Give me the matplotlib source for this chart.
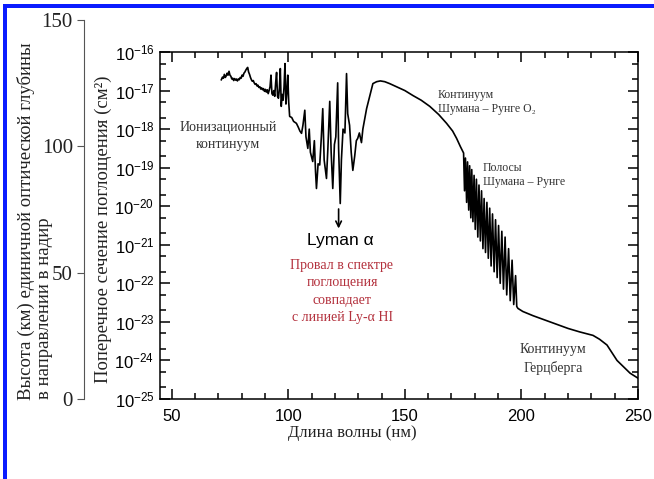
import matplotlib
matplotlib.use("Agg")
import matplotlib.pyplot as plt
from matplotlib.ticker import MultipleLocator, LogLocator, NullFormatter
from matplotlib.patches import Rectangle

# O2 absorption cross-section, wavelength in nm, log10(sigma / cm^2)
ion_wl = [71.3, 71.8, 72.2, 72.6, 73.0, 73.4, 73.8, 74.2, 74.6, 75.0, 75.4, 75.8,
          76.2, 76.6, 77.0, 77.4, 77.8, 78.2, 78.6, 79.0, 79.4, 79.8, 80.2, 80.6,
          81.0, 81.4, 81.8, 82.2, 82.6, 83.0, 83.4, 83.8, 84.2, 84.6, 85.0, 85.4,
          85.8, 86.2, 86.6, 87.0, 87.4, 87.8, 88.2, 88.6, 89.0, 89.4, 89.8, 90.2,
          90.6, 91.0, 91.4, 91.8, 92.2, 92.6, 93.0, 93.4, 93.8, 94.2, 94.6, 95.0,
          95.4, 95.8, 96.2, 96.6, 97.0, 97.4, 97.8, 98.2, 98.6, 99.0, 99.4, 99.8,
          100.2]
ion_log = [-16.72, -16.65, -16.68, -16.58, -16.66, -16.62, -16.55, -16.60, -16.50,
           -16.60, -16.63, -16.70, -16.68, -16.74, -16.69, -16.73, -16.70, -16.75,
           -16.70, -16.72, -16.66, -16.68, -16.60, -16.63, -16.55, -16.52, -16.47,
           -16.43, -16.40, -16.52, -16.58, -16.66, -16.72, -16.76, -16.74, -16.80,
           -16.84, -16.82, -16.88, -16.86, -16.92, -16.90, -16.96, -16.93, -16.98,
           -16.95, -17.02, -16.97, -17.04, -16.98, -17.08, -17.00, -16.90, -16.60,
           -17.08, -17.12, -17.00, -17.15, -16.80, -16.53, -17.15, -17.20, -16.95,
           -16.43, -17.41, -17.10, -17.25, -16.90, -16.30, -17.35, -17.05, -16.60,
           -17.30]

window_wl = [100.6, 101.5, 102.3, 103.5, 104.3, 105.0, 105.7, 106.3, 107.1, 107.6,
             108.4, 109.0, 109.5, 110.5, 111.2, 111.7, 112.1, 112.8, 113.5, 114.2,
             114.8, 115.4, 116.4, 117.0, 117.8, 118.4, 119.1, 119.8, 120.4, 121.2,
             121.6, 122.3, 122.8, 123.5, 124.3, 125.0, 125.5, 126.3, 127.0, 127.7,
             128.5, 129.2, 129.8, 130.5, 131.4, 132.0, 133.6]
window_log = [-17.67, -17.70, -17.80, -17.85, -17.95, -18.05, -18.11, -17.90, -17.51,
              -18.20, -18.50, -18.00, -18.60, -18.84, -18.30, -19.10, -19.54, -18.90,
              -18.93, -18.20, -17.47, -18.80, -19.28, -18.50, -17.28, -18.60, -19.54,
              -18.40, -18.20, -16.80, -18.50, -19.93, -18.80, -18.00, -18.10, -16.56,
              -17.60, -17.90, -18.60, -19.07, -18.70, -18.30, -18.24, -18.10, -18.35,
              -18.00, -17.47]

sr_cont_wl = [135.0, 136.3, 137.9, 139.5, 141.4, 143.5, 146.4, 150.0, 153.5, 157.0,
              160.7, 164.5, 167.9, 170.5, 172.2, 173.8, 174.9]
sr_cont_log = [-17.13, -16.82, -16.77, -16.75, -16.77, -16.82, -16.90, -17.00, -17.13,
               -17.25, -17.41, -17.62, -17.85, -18.05, -18.24, -18.45, -18.58]

bands_wl = [175.2, 175.6, 176.0, 176.5, 176.9, 177.4, 177.8, 178.3, 178.7, 179.2,
            179.7, 180.2, 180.7, 181.3, 181.8, 182.4, 182.9, 183.5, 184.0, 184.6,
            185.2, 185.8, 186.4, 187.0, 187.6, 188.3, 188.9, 189.6, 190.2, 190.9,
            191.6, 192.3, 193.0, 193.7, 194.5, 195.2, 196.0, 196.7, 197.5, 198.0]
bands_log = [-18.62, -19.60, -18.75, -19.90, -18.85, -20.10, -18.95, -20.30, -19.05,
             -20.40, -19.20, -20.60, -19.30, -20.80, -19.45, -20.90, -19.60, -21.10,
             -19.80, -21.20, -19.90, -21.35, -20.05, -21.55, -20.20, -21.70, -20.35,
             -21.85, -20.50, -22.00, -20.65, -22.15, -20.80, -22.30, -21.10, -22.45,
             -21.40, -22.55, -21.80, -22.60]

herz_wl = [198.5, 200.6, 205.0, 210.0, 215.0, 220.0, 225.0, 230.7, 233.5, 236.7,
           241.0, 246.6, 250.0]
herz_log = [-22.65, -22.73, -22.84, -22.95, -23.06, -23.17, -23.26, -23.35, -23.45,
            -23.60, -24.00, -24.33, -24.46]

height_ticks = [0, 50, 100, 150]

wavelength = ion_wl + window_wl + sr_cont_wl + bands_wl + herz_wl
log_sigma = ion_log + window_log + sr_cont_log + bands_log + herz_log

W, H = 654, 479
fig = plt.figure(figsize=(W / 100, H / 100), dpi=100)


def fx(px):
    return px / W


def fy(py):
    return 1 - py / H


serif = ['Liberation Serif', 'DejaVu Serif']
sans = ['Liberation Sans', 'DejaVu Sans']

# blue frame
fig.add_artist(Rectangle((fx(3), fy(8)), 1, 4 / H, transform=fig.transFigure,
                         color='#0a1cff', lw=0))
fig.add_artist(Rectangle((fx(3), 0), 4 / W, fy(4), transform=fig.transFigure,
                         color='#0a1cff', lw=0))

ax = fig.add_axes([fx(160), fy(399), 478 / W, 347 / H])
ax.plot(wavelength, [10 ** v for v in log_sigma], color='black', lw=1.2)
ax.set_yscale('log')
ax.set_xlim(45, 250)
ax.set_ylim(1e-25, 1e-16)
ax.xaxis.set_major_locator(MultipleLocator(50))
ax.xaxis.set_minor_locator(MultipleLocator(10))
ax.yaxis.set_major_locator(LogLocator(base=10, numticks=20))
ax.yaxis.set_minor_locator(LogLocator(base=10, subs=(2, 5), numticks=20))
ax.yaxis.set_minor_formatter(NullFormatter())
ax.tick_params(which='both', direction='in', top=True, right=True, width=1.1)
ax.tick_params(which='major', length=7)
ax.tick_params(which='minor', length=4)
ax.tick_params(axis='y', pad=4)
ax.tick_params(axis='x', pad=7)
for lab in ax.get_xticklabels() + ax.get_yticklabels():
    lab.set_fontfamily(sans)
    lab.set_fontsize(12)
for s in ax.spines.values():
    s.set_linewidth(1.1)

# secondary height axis
ax2 = fig.add_axes([fx(84), fy(399), 0.0005, (399 - 20) / H])
ax2.set_ylim(0, 150)
ax2.set_yticks(height_ticks)
ax2.set_xticks([])
for side in ['right', 'top', 'bottom']:
    ax2.spines[side].set_visible(False)
ax2.spines['left'].set_color('#555555')
ax2.tick_params(axis='y', direction='out', length=5, color='#555555', pad=3)
for lab in ax2.get_yticklabels():
    lab.set_fontfamily(serif)
    lab.set_fontsize(15)
    lab.set_color('#222222')

fig.text(fx(26), fy(400), 'Высота (км) единичной оптической глубины', rotation=90,
         ha='center', va='bottom', fontsize=13.5, family=serif, color='#222222')
fig.text(fx(45), fy(399), 'в направлении в надир', rotation=90,
         ha='center', va='bottom', fontsize=13.5, family=serif, color='#222222')
fig.text(fx(103), fy(229), 'Поперечное сечение поглощения (см²)', rotation=90,
         ha='center', va='center', fontsize=13.5, family=serif, color='#222222')
fig.text(fx(352), fy(433), 'Длина волны (нм)', ha='center', va='center',
         fontsize=12, family=serif, color='#222222')

grey = '#333333'
fig.text(fx(228), fy(136), 'Ионизационный\nконтинуум', ha='center', va='center',
         fontsize=10, family=serif, color=grey, linespacing=1.45)
fig.text(fx(438), fy(102), 'Континуум\nШумана – Рунге O₂', ha='left', va='center',
         fontsize=8.5, family=serif, color=grey, linespacing=1.25)
fig.text(fx(483), fy(175), 'Полосы\nШумана – Рунге', ha='left', va='center',
         fontsize=8.5, family=serif, color=grey, linespacing=1.25)
fig.text(fx(553), fy(359), 'Континуум\nГерцберга', ha='center', va='center',
         fontsize=10, family=serif, color=grey, linespacing=1.4)

ax.annotate('', xy=(121.6, 10 ** -20.65), xytext=(121.6, 10 ** -20.0),
            arrowprops=dict(arrowstyle='->', color='black', lw=1.2))
fig.text(fx(340), fy(241), 'Lyman α', ha='center', va='center', fontsize=12.5,
         family=sans, color='black')
fig.text(fx(342), fy(291.5), 'Провал в спектре\nпоглощения\nсовпадает\nс линией Ly-α HI',
         ha='center', va='center', fontsize=10, family=serif, color='#b3303c',
         linespacing=1.42)

fig.savefig('out.png', dpi=100)
